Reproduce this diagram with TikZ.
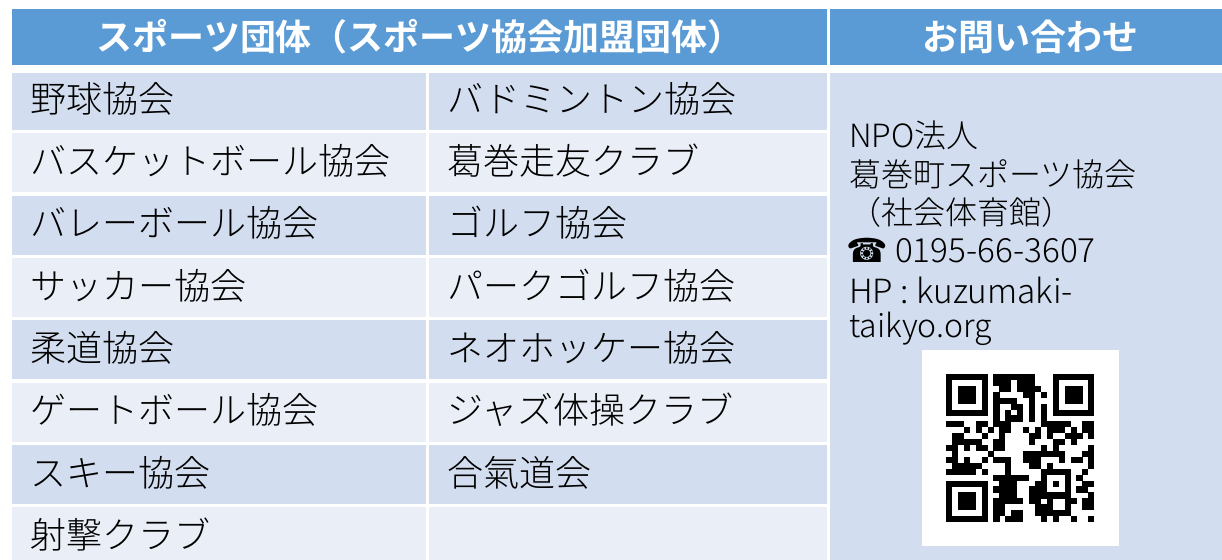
\documentclass[tikz,border=0pt]{standalone}
\usepackage{fontspec}
\setmainfont{Noto Sans CJK JP}[UprightFont=* Light,BoldFont=* Bold]
\newfontfamily\phonefont{DejaVu Sans}
\definecolor{headblue}{HTML}{5B9BD5}
\definecolor{banddark}{HTML}{D2DEEF}
\definecolor{bandlight}{HTML}{EAEFF7}
\newcount\qrcol
\newcount\qrrownum
\def\qrrow#1{\qrcol=0 \qrnext#1\relax}
\def\qrnext#1{\ifx#1\relax\else
  \ifx#11\fill[black] ({946+5.93*\the\qrcol},{374+5.92*\the\qrrownum}) rectangle ++(6.1,6.1);\fi
  \global\advance\qrcol by 1
  \expandafter\qrnext\fi}
\tikzset{
  headcell/.style={fill=headblue,inner sep=0pt,outer sep=0pt,minimum height=42pt,anchor=north west},
  headtext/.style={text=white,font=\fontsize{27pt}{30pt}\selectfont\bfseries,inner sep=0pt},
  label/.style={font=\fontsize{27pt}{32pt}\selectfont,text=black,inner sep=0pt,anchor=west},
  contact/.style={font=\fontsize{24pt}{29pt}\selectfont,text=black,inner sep=0pt,anchor=west},
  contactwide/.style={font=\fontsize{25pt}{29pt}\selectfont,text=black,inner sep=0pt,anchor=west},
}
\begin{document}
\begin{tikzpicture}[x=0.75pt,y=-0.75pt]
\useasboundingbox (0,0) rectangle (1222,560);
\fill[white] (0,0) rectangle (1222,560);
% headers
\node[headcell,minimum width=611.25pt] (h1) at (12,9) {};
\node[headcell,minimum width=294pt] (h2) at (830,9) {};
\node[headtext] (h1t) at (420,37) {スポーツ団体（スポーツ協会加盟団体）};
\node[headtext] (h2t) at (1030,37) {お問い合わせ};
% row bands
\foreach \ya/\yb/\c [count=\i] in {73/130/banddark,133/192/bandlight,196/255/banddark,258/317/bandlight,320/379/banddark,383/442/bandlight,445/504/banddark,507/560/bandlight}{
  \fill[\c] (12,\ya) rectangle (426,\yb);
  \fill[\c] (429,\ya) rectangle (827,\yb);
}
\fill[banddark] (830,73) rectangle (1222,560);
% left column
\node[label] (a1) at (30,99) {野球協会};
\node[label] (a2) at (30,161) {バスケットボール協会};
\node[label] (a3) at (30,223) {バレーボール協会};
\node[label] (a4) at (30,286) {サッカー協会};
\node[label] (a5) at (30,348) {柔道協会};
\node[label] (a6) at (30,410) {ゲートボール協会};
\node[label] (a7) at (30,473) {スキー協会};
\node[label] (a8) at (30,535) {射撃クラブ};
% middle column
\node[label] (b1) at (447,99) {バドミントン協会};
\node[label] (b2) at (447,161) {葛巻走友クラブ};
\node[label] (b3) at (447,223) {ゴルフ協会};
\node[label] (b4) at (447,286) {パークゴルフ協会};
\node[label] (b5) at (447,348) {ネオホッケー協会};
\node[label] (b6) at (447,410) {ジャズ体操クラブ};
\node[label] (b7) at (447,473) {合氣道会};
% contact
\node[contact] (c1) at (849,135) {NPO法人};
\node[contact] (c2) at (849,174) {葛巻町スポーツ協会};
\node[contact] (c3) at (849,212) {（社会体育館）};
\node[contactwide] (c4) at (846,251) {{\phonefont ☎} 0195-66-3607};
\node[contactwide] (c5) at (849,290) {HP : kuzumaki-};
\node[contact] (c6) at (849,329) {taikyo.org};
% QR
\node[fill=white,minimum width=147.75pt,minimum height=147pt,inner sep=0pt,anchor=north west] (qr) at (922,350) {};
\qrrownum=0
\foreach \s in {
1111111011111110001111111,
1000001011101110001000001,
1011101001101111001011101,
1011101010000110101011101,
1011101011110010001011101,
1000001010011010101000001,
1111111010101010101111111,
0000000010111010100000000,
1110011011100000111110011,
0001010101100101011101011,
0110001001000011010011101,
0111110011000010001101000,
1101011011000000101000001,
0100000100000111111100011,
1101001011100111000101101,
0111110000100011010000001,
1111101000100000111110010,
0000000011111100100010100,
1111111001110001101010011,
1000001011110011100010110,
1011101001110011111110001,
1011101011111011010011011,
1011101011000001110010011,
1000001011011001111110000,
1111111010111000101001001}{
  \expandafter\qrrow\expandafter{\s}
  \global\advance\qrrownum by 1
}
\end{tikzpicture}
\end{document}
